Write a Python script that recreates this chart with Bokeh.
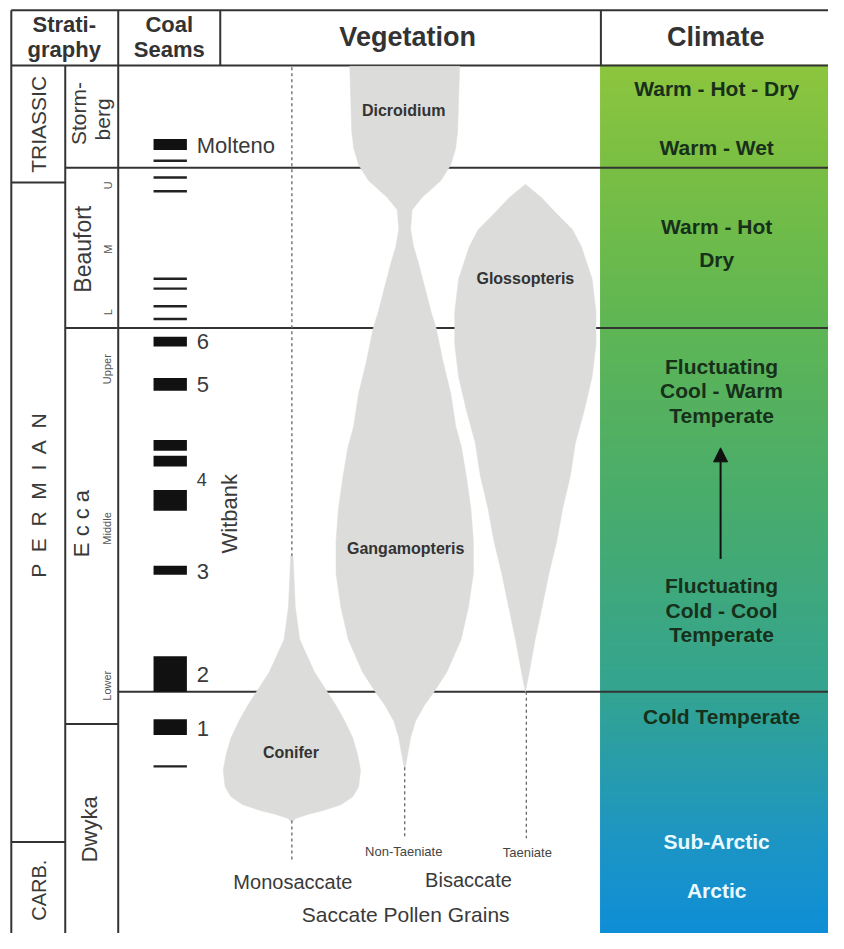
import numpy as np
from bokeh.plotting import figure
from bokeh.models import Range1d, Arrow, NormalHead
from bokeh.core.properties import value
from bokeh.embed import file_html
from bokeh.resources import INLINE

# ---------------- data ----------------
NB = "\u00a0"
period_names = ["TRIASSIC", (NB + " ").join(list("PERMIAN")), "CARB."]
period_tops = [66, 185, 856]
formation_names = ["Storm-", "Beaufort", "E c c a", "Dwyka"]
formation_tops = [66, 170, 333, 736]
beaufort_sub = ["U", "M", "L"]
ecca_sub = ["Upper", "Middle", "Lower"]
lower_ecca_top = 703
section_base = 949

seam_top = [141, 342, 384, 447, 463, 498, 575, 667, 731]
seam_base = [152, 352, 397, 458, 474, 519, 584, 703, 747]
thin_seams = [163, 180, 194, 283, 293, 311, 324, 779]
seam_labels = ["Molteno", "6", "5", "4", "3", "2", "1"]
seam_label_level = [147, 347, 391, 487, 581, 686, 740]

# vegetation: level and half-width of each range shape
dg_level = [67, 100, 133, 150, 167, 183, 200, 213, 233, 250, 267, 290, 317, 333, 367, 400,
            433, 455, 485, 517, 550, 583, 617, 650, 683, 703, 717, 733, 750, 767, 780]
dg_width = [56, 55, 54, 52, 47, 37, 18, 7.5, 6, 9, 14, 20, 27, 32, 39, 47,
            52, 58, 63, 67.5, 70, 70, 65, 57.5, 43, 30, 20, 11, 6, 3, 0.5]
con_level = [565, 583, 617, 650, 683, 703, 717, 733, 750, 767, 783, 800, 810, 818, 824, 828, 832, 835]
con_width = [1.2, 2, 3.5, 8, 23, 36, 45, 54, 62, 67, 70, 68, 62, 50, 32, 16, 4, 1]
glo_level = [187, 200, 217, 233, 250, 283, 317, 350, 383, 417, 450, 483, 517, 550, 583, 617, 650, 683, 703]
glo_width = [0, 16, 32, 48, 57, 68, 72, 72, 68, 60, 51, 46, 38, 32, 24, 17, 10, 4, 0]

climate_labels = ["Warm - Hot - Dry", "Warm - Wet", "Warm - Hot", "Dry",
                  "Fluctuating", "Cool - Warm", "Temperate",
                  "Fluctuating", "Cold - Cool", "Temperate",
                  "Cold Temperate", "Sub-Arctic", "Arctic"]
climate_level = [90, 150, 230, 263, 372, 397, 422, 595, 620, 645, 728, 855, 905]
climate_light = [False] * 11 + [True, True]

grad_levels = [66, 170, 333, 520, 703, 850, 949]
grad_rgb = [(141, 198, 63), (122, 191, 68), (95, 182, 85), (72, 172, 110),
            (52, 164, 145), (30, 150, 195), (15, 142, 215)]

# ---------------- figure ----------------
FONT = value("Liberation Sans")
p = figure(width=828, height=933, x_range=Range1d(0, 844), y_range=Range1d(949, 0),
           output_backend="svg", toolbar_location=None,
           x_axis_location=None, y_axis_location=None, min_border=0)
p.grid.visible = False
p.outline_line_color = None
p.background_fill_color = "white"
p.border_fill_color = "white"

X_LEFT, X_P, X_F, X_C, X_V, X_CL, X_R = 11, 66, 120, 224, 612, 612, 850

# climate gradient
ys = np.arange(grad_levels[0], grad_levels[-1], 2.0)
cols = []
for y in ys:
    r = np.interp(y, grad_levels, [c[0] for c in grad_rgb])
    g = np.interp(y, grad_levels, [c[1] for c in grad_rgb])
    b = np.interp(y, grad_levels, [c[2] for c in grad_rgb])
    cols.append("#%02x%02x%02x" % (int(r), int(g), int(b)))
p.quad(left=X_CL, right=X_R, top=ys, bottom=ys + 3.0, fill_color=cols,
       line_color=cols, line_width=1.5)

LC = "#333333"
# horizontal rules
hx0 = [X_LEFT, X_LEFT, X_LEFT, X_LEFT, X_P, X_P, X_P, X_F]
hx1 = [X_R, X_R, X_P, X_P, X_R, X_R, X_F, X_R]
hy = [10, formation_tops[0], period_tops[1], period_tops[2], formation_tops[1],
      formation_tops[2], formation_tops[3], lower_ecca_top]
p.segment(x0=hx0, y0=hy, x1=hx1, y1=hy, line_color=LC, line_width=2)
# vertical rules
vx = [X_LEFT, X_P, X_F, X_C, X_V]
vy0 = [10, formation_tops[0], 10, 10, 10]
vy1 = [section_base, section_base, section_base, formation_tops[0], formation_tops[0]]
p.segment(x0=vx, y0=vy0, x1=vx, y1=vy1, line_color=LC, line_width=2)

# vegetation shapes
SHAPE = "#dcdcda"
def shape(center, lev, wid):
    lev = np.array(lev, float); wid = np.array(wid, float)
    xs = np.concatenate([center - wid, (center + wid)[::-1]])
    yy = np.concatenate([lev, lev[::-1]])
    p.patch(x=xs, y=yy, fill_color=SHAPE, line_color=SHAPE, line_width=0.5)

shape(412, dg_level, dg_width)
shape(297, con_level, con_width)
shape(535, glo_level, glo_width)

# dashed range lines
DC = "#666666"
p.segment(x0=[297, 297, 412, 536], y0=[68, 834, 780, 703],
          x1=[297, 297, 412, 536], y1=[565, 876, 852, 852],
          line_color=DC, line_width=1.3, line_dash="3 3")

# coal seams
p.quad(left=156, right=190, top=seam_top, bottom=seam_base, fill_color="#111111", line_color=None)
p.quad(left=156, right=190, top=np.array(thin_seams) - 1.2, bottom=np.array(thin_seams) + 1.2,
       fill_color="#222222", line_color=None)

def txt(x, y, s, size, bold=False, color="#333333", angle=0.0, align="center"):
    p.text(x=[x], y=[y], text=[s], text_font=FONT, text_font_size=value(f"{size}px"),
           text_font_style="bold" if bold else "normal", text_color=color,
           angle=angle, text_align=align, text_baseline="middle")

R = np.pi / 2
# headers
txt(65, 24, "Strati-", 22, True)
txt(65, 50, "graphy", 22, True)
txt(172, 24, "Coal", 22, True)
txt(172, 50, "Seams", 22, True)
txt(415, 37, "Vegetation", 27, True)
txt(729, 37, "Climate", 27, True)

# periods
period_y = [126, 503, 905]
period_size = [21, 21, 20]
for name, yy, sz in zip(period_names, period_y, period_size):
    txt(39, yy, name, sz, angle=R, color="#3a3a3a")
# formations
txt(79, 115, "Storm-", 21, angle=R, color="#3a3a3a")
txt(104, 121, "berg", 21, angle=R, color="#3a3a3a")
txt(84, 253, formation_names[1], 23, angle=R, color="#3a3a3a")
txt(83, 532, formation_names[2], 22, angle=R, color="#3a3a3a")
txt(91, 843, formation_names[3], 22, angle=R, color="#3a3a3a")
for s, yy in zip(beaufort_sub, [188, 253, 317]):
    txt(110, yy, s, 11, angle=R, color="#555555")
for s, yy in zip(ecca_sub, [375, 537, 697]):
    txt(109, yy, s, 11, angle=R, color="#555555")

# seam labels
for s, yy in zip(seam_labels, seam_label_level):
    txt(200, yy, s, 18 if s == "4" else 22, align="left", color="#3a3a3a")
txt(233, 522, "Witbank", 22, angle=R, color="#3a3a3a")

# vegetation labels
txt(411, 112, "Dicroidium", 16, True, "#333333")
txt(535, 283, "Glossopteris", 16, True, "#333333")
txt(413, 557, "Gangamopteris", 16, True, "#333333")
txt(296, 765, "Conifer", 16, True, "#333333")
txt(411, 866, "Non-Taeniate", 13, color="#444444")
txt(537, 867, "Taeniate", 13, color="#444444")
txt(298, 897, "Monosaccate", 20, color="#3a3a3a")
txt(477, 895, "Bisaccate", 20, color="#3a3a3a")
txt(413, 930, "Saccate Pollen Grains", 21, color="#3a3a3a")

# climate labels
for s, yy, light in zip(climate_labels, climate_level, climate_light):
    cx = 735 if 300 < yy < 760 else 730
    txt(cx, yy, s, 21, True, "#eafaff" if light else "#17301a")

p.add_layout(Arrow(end=NormalHead(size=14, fill_color="#111111", line_color="#111111"),
                   x_start=734, y_start=568, x_end=734, y_end=455,
                   line_color="#111111", line_width=2))

open("out.html", "w").write(file_html(p, INLINE))
